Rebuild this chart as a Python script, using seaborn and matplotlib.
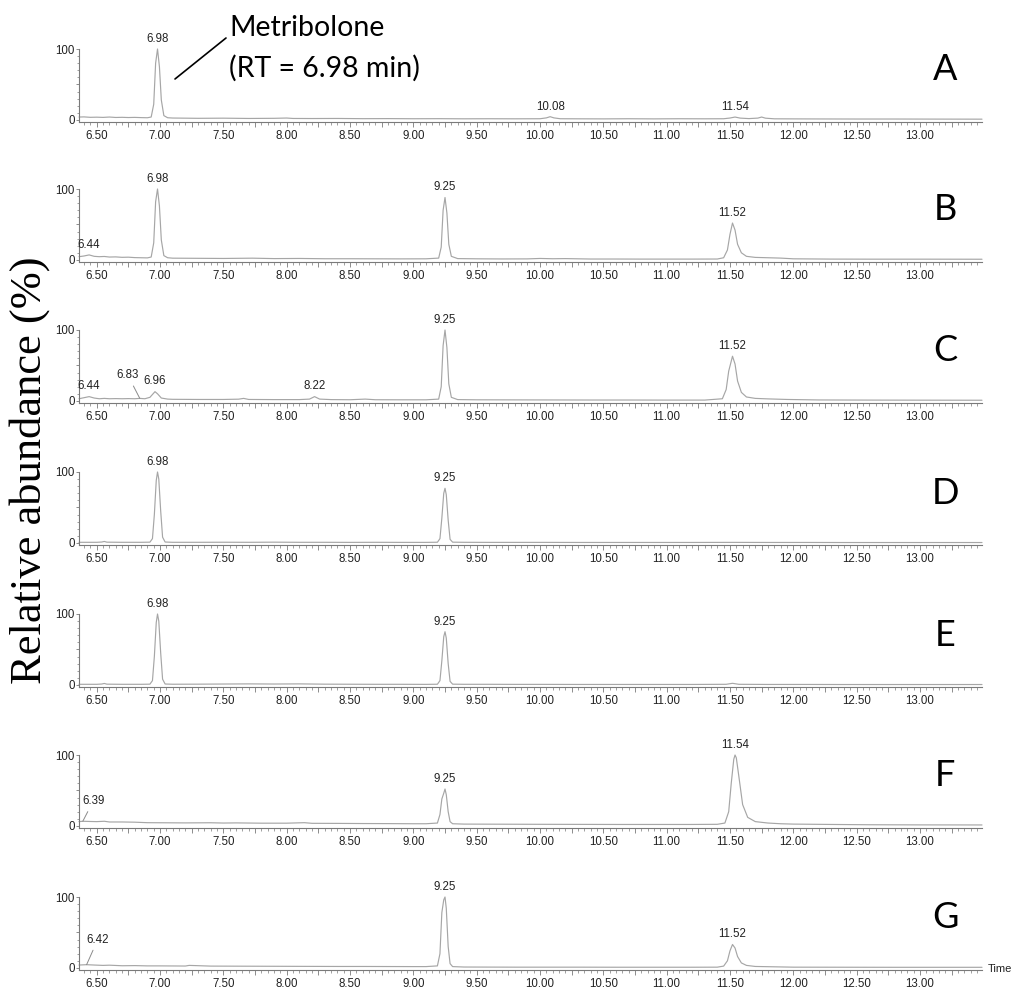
import matplotlib
matplotlib.use("Agg")
import matplotlib.pyplot as plt
import seaborn as sns
import pandas as pd
from matplotlib.ticker import MultipleLocator, FuncFormatter, FixedLocator
from matplotlib.lines import Line2D

# ---------------- data ----------------
TIME_A = [6.36, 6.40, 6.45, 6.50, 6.55, 6.60, 6.65, 6.70, 6.75, 6.80,
          6.85, 6.90, 6.93, 6.95, 6.965, 6.98, 6.995, 7.01, 7.03, 7.06,
          7.10, 7.20, 7.30, 7.50, 7.70, 7.90, 8.00, 8.05, 8.20, 8.40,
          8.60, 8.80, 9.00, 9.20, 9.40, 9.60, 9.80, 10.00, 10.05, 10.08,
          10.11, 10.16, 10.30, 10.50, 10.70, 10.90, 11.10, 11.30, 11.45, 11.50,
          11.54, 11.58, 11.65, 11.72, 11.75, 11.78, 11.85, 12.00, 12.20, 12.50,
          12.80, 13.10, 13.49]
ABUND_A = [4.0, 4.2, 3.6, 3.8, 3.5, 4.0, 3.4, 3.6, 3.3, 3.5,
           3.2, 3.0, 4.0, 22, 80, 100, 75, 28, 6.0, 3.0,
           2.6, 2.4, 2.2, 2.4, 2.0, 2.2, 2.6, 2.0, 1.9, 2.0,
           1.7, 1.8, 1.6, 1.7, 1.5, 1.6, 1.5, 1.6, 2.8, 4.5,
           2.8, 1.6, 1.5, 1.4, 1.6, 1.4, 1.6, 1.5, 1.6, 2.6,
           4.0, 2.5, 1.8, 2.5, 4.0, 2.4, 1.5, 1.4, 1.3, 1.2,
           1.2, 1.1, 1.0]

TIME_B = [6.36, 6.40, 6.44, 6.48, 6.52, 6.56, 6.60, 6.65, 6.70, 6.75,
          6.80, 6.85, 6.90, 6.93, 6.95, 6.965, 6.98, 6.995, 7.01, 7.03,
          7.06, 7.10, 7.30, 7.50, 7.73, 7.90, 8.10, 8.30, 8.50, 8.70,
          8.90, 9.10, 9.20, 9.22, 9.235, 9.25, 9.265, 9.28, 9.30, 9.35,
          9.50, 9.70, 9.90, 10.00, 10.10, 10.20, 10.40, 10.60, 10.80, 11.00,
          11.20, 11.40, 11.45, 11.48, 11.50, 11.52, 11.54, 11.56, 11.59, 11.63,
          11.70, 11.80, 11.90, 12.00, 12.30, 12.60, 13.00, 13.49]
ABUND_B = [4.5, 5.5, 7.0, 5.0, 4.5, 4.8, 4.0, 4.2, 3.6, 3.8,
           3.2, 3.0, 2.8, 4.0, 24, 82, 100, 76, 28, 6.0,
           3.0, 2.4, 2.2, 2.0, 2.4, 1.8, 2.0, 1.6, 1.6, 1.5,
           1.4, 1.5, 2.5, 18, 70, 88, 66, 22, 5.0, 1.8,
           1.5, 1.3, 1.4, 2.0, 1.6, 1.8, 1.2, 1.2, 1.1, 1.1,
           1.1, 1.2, 3.0, 14, 36, 52, 42, 22, 10, 5.0,
           3.5, 3.0, 2.5, 1.5, 1.1, 1.0, 1.0, 0.9]

TIME_C = [6.36, 6.40, 6.44, 6.48, 6.52, 6.56, 6.60, 6.65, 6.70, 6.75,
          6.80, 6.84, 6.88, 6.92, 6.94, 6.96, 6.98, 7.01, 7.06, 7.10,
          7.30, 7.50, 7.62, 7.66, 7.70, 7.90, 8.10, 8.18, 8.22, 8.26,
          8.35, 8.50, 8.58, 8.62, 8.70, 8.90, 9.10, 9.20, 9.22, 9.235,
          9.25, 9.265, 9.28, 9.30, 9.35, 9.50, 9.80, 10.10, 10.40, 10.70,
          11.00, 11.30, 11.44, 11.47, 11.49, 11.52, 11.54, 11.56, 11.59, 11.63,
          11.70, 11.80, 11.95, 12.20, 12.60, 13.00, 13.49]
ABUND_C = [3.0, 4.5, 6.0, 4.0, 3.0, 3.5, 3.0, 3.2, 3.0, 3.2,
           3.0, 3.5, 3.0, 5.0, 9.0, 13, 10, 4.0, 2.5, 2.2,
           2.0, 2.0, 2.4, 3.5, 2.0, 1.8, 1.8, 2.5, 6.0, 2.5,
           1.8, 1.6, 2.2, 2.5, 1.6, 1.5, 1.5, 2.5, 20, 78,
           100, 75, 24, 5.0, 1.8, 1.5, 1.4, 1.3, 1.2, 1.2,
           1.1, 1.1, 3.0, 16, 42, 63, 52, 28, 12, 5.5,
           3.5, 2.8, 2.0, 1.3, 1.1, 1.0, 0.9]

TIME_D = [6.36, 6.50, 6.54, 6.56, 6.58, 6.70, 6.85, 6.92, 6.94, 6.955,
          6.97, 6.98, 6.99, 7.005, 7.02, 7.04, 7.10, 7.30, 7.50, 7.70,
          7.90, 8.10, 8.30, 8.50, 8.70, 8.90, 9.10, 9.19, 9.21, 9.225,
          9.24, 9.25, 9.26, 9.275, 9.29, 9.31, 9.40, 9.60, 9.80, 10.00,
          10.30, 10.60, 10.90, 11.20, 11.50, 11.80, 12.10, 12.40, 12.70, 13.00,
          13.49]
ABUND_D = [0.8, 0.8, 1.2, 2.0, 1.0, 0.8, 0.8, 1.0, 6.0, 40,
           88, 100, 90, 45, 8.0, 1.2, 0.8, 0.8, 0.9, 0.8,
           1.0, 0.8, 0.8, 0.7, 0.8, 0.7, 0.7, 0.9, 6.0, 35,
           70, 77, 68, 32, 5.0, 1.0, 0.8, 0.7, 0.7, 0.7,
           0.6, 0.6, 0.6, 0.6, 0.7, 0.6, 0.6, 0.5, 0.5, 0.5,
           0.5]

TIME_E = [6.36, 6.50, 6.54, 6.56, 6.58, 6.70, 6.85, 6.92, 6.94, 6.955,
          6.97, 6.98, 6.99, 7.005, 7.02, 7.04, 7.10, 7.30, 7.50, 7.70,
          7.90, 8.10, 8.30, 8.50, 8.70, 8.90, 9.10, 9.19, 9.21, 9.225,
          9.24, 9.25, 9.26, 9.275, 9.29, 9.31, 9.40, 9.60, 9.80, 10.00,
          10.30, 10.60, 10.90, 11.20, 11.47, 11.52, 11.57, 11.80, 12.10, 12.40,
          12.70, 13.00, 13.49]
ABUND_E = [0.8, 0.8, 1.2, 2.0, 1.0, 0.8, 0.8, 1.0, 6.0, 40,
           88, 100, 90, 45, 8.0, 1.2, 0.9, 1.0, 1.2, 1.4,
           1.2, 1.4, 1.0, 0.9, 0.8, 0.8, 0.7, 0.9, 6.0, 34,
           68, 75, 66, 30, 5.0, 1.0, 0.8, 0.8, 0.7, 0.7,
           0.6, 0.6, 0.6, 0.6, 0.8, 2.2, 0.8, 0.6, 0.6, 0.5,
           0.5, 0.5, 0.5]

TIME_F = [6.36, 6.39, 6.45, 6.50, 6.56, 6.60, 6.70, 6.80, 6.90, 7.00,
          7.20, 7.40, 7.50, 7.60, 7.70, 7.80, 8.00, 8.14, 8.20, 8.40,
          8.60, 8.80, 9.00, 9.10, 9.19, 9.21, 9.225, 9.24, 9.25, 9.26,
          9.275, 9.29, 9.31, 9.40, 9.60, 9.80, 10.00, 10.30, 10.60, 10.90,
          11.20, 11.40, 11.46, 11.49, 11.51, 11.53, 11.54, 11.55, 11.57, 11.60,
          11.64, 11.70, 11.80, 11.90, 12.00, 12.30, 12.60, 13.00, 13.49]
ABUND_F = [6.0, 6.5, 6.2, 6.0, 6.5, 5.5, 5.5, 5.2, 4.5, 4.4,
           4.2, 4.4, 4.0, 4.2, 4.0, 3.8, 3.8, 4.5, 3.6, 3.5,
           3.3, 3.2, 3.0, 3.0, 4.0, 16, 38, 46, 52, 44,
           20, 6.0, 3.0, 2.5, 2.4, 2.3, 2.2, 2.1, 2.0, 2.0,
           2.0, 2.2, 4.0, 20, 60, 94, 100, 96, 70, 30,
           12, 6.0, 4.0, 3.0, 2.5, 2.0, 1.6, 1.4, 1.3]

TIME_G = [6.36, 6.42, 6.48, 6.55, 6.60, 6.70, 6.80, 6.90, 7.00, 7.20,
          7.23, 7.40, 7.60, 7.80, 8.00, 8.20, 8.40, 8.60, 8.80, 9.00,
          9.10, 9.19, 9.21, 9.225, 9.24, 9.25, 9.26, 9.275, 9.29, 9.31,
          9.40, 9.60, 9.80, 10.00, 10.30, 10.60, 10.90, 11.20, 11.40, 11.45,
          11.48, 11.50, 11.52, 11.54, 11.56, 11.59, 11.63, 11.70, 11.85, 12.00,
          12.40, 12.80, 13.49]
ABUND_G = [4.0, 4.5, 4.0, 3.5, 3.8, 3.0, 3.2, 2.8, 2.8, 2.6,
           3.5, 2.5, 2.4, 2.3, 2.2, 2.1, 2.0, 2.0, 1.9, 1.8,
           1.8, 2.8, 20, 78, 96, 100, 84, 30, 6.0, 1.8,
           1.2, 1.1, 1.0, 1.0, 1.0, 0.9, 0.9, 0.9, 1.0, 2.5,
           10, 24, 33, 28, 16, 7.0, 3.5, 2.0, 1.5, 1.0,
           0.9, 0.8, 0.8]

PANEL_NAMES = ["A", "B", "C", "D", "E", "F", "G"]
PEAK_LABELS = {
    "A": ["6.98", "10.08", "11.54"],
    "B": ["6.44", "6.98", "9.25", "11.52"],
    "C": ["6.44", "6.83", "6.96", "8.22", "9.25", "11.52"],
    "D": ["6.98", "9.25"],
    "E": ["6.98", "9.25"],
    "F": ["6.39", "9.25", "11.54"],
    "G": ["6.42", "9.25", "11.52"],
}
X_TICK_MAJOR = 0.25
X_LIMITS = (6.36, 13.49)
COMPOUND_LINE1 = "Metribolone"
COMPOUND_LINE2 = "(RT = 6.98 min)"
Y_LABEL = "Relative abundance (%)"
X_LABEL = "Time"

TRACES = {
    "A": (TIME_A, ABUND_A), "B": (TIME_B, ABUND_B), "C": (TIME_C, ABUND_C),
    "D": (TIME_D, ABUND_D), "E": (TIME_E, ABUND_E), "F": (TIME_F, ABUND_F),
    "G": (TIME_G, ABUND_G),
}

# leader-line label offsets (points), style only
LEADER_OFFSETS = {("C", "6.83"): (-8.5, 16.5), ("F", "6.39"): (7.5, 14.5),
                  ("G", "6.42"): (8.0, 18.0)}

# ---------------- style ----------------
sns.set_theme(style="white")
plt.rcParams["font.family"] = ["Liberation Sans", "DejaVu Sans"]

W, H = 1013, 992
fig = plt.figure(figsize=(W / 100, H / 100), dpi=100)


def fx(px):
    return px / W


def fy(py):
    return 1 - py / H


AX_L, AX_R = 79, 982
TOPS = [49, 189, 330, 472, 614, 755, 897]
AX_HPX = 73
TRACE_COLOR = "#a6a6a6"
AXIS_COLOR = "#7a7a7a"
TXT = "#222222"


def xfmt(v, pos):
    if abs(v * 2 - round(v * 2)) < 1e-6:
        return f"{v:.2f}"
    return ""


for name, top in zip(PANEL_NAMES, TOPS):
    t, a = TRACES[name]
    df = pd.DataFrame({"time": t, "abund": a})
    ax = fig.add_axes([fx(AX_L), fy(top + AX_HPX), fx(AX_R - AX_L), AX_HPX / H])
    sns.lineplot(data=df, x="time", y="abund", ax=ax, color=TRACE_COLOR,
                 linewidth=0.85, sort=False, estimator=None, clip_on=False)
    ax.set_xlim(*X_LIMITS)
    ax.set_ylim(-3, 100)
    ax.set_xlabel("")
    ax.set_ylabel("")
    ax.patch.set_alpha(0)
    for s in ["top", "right"]:
        ax.spines[s].set_visible(False)
    for s in ["left", "bottom"]:
        ax.spines[s].set_color(AXIS_COLOR)
        ax.spines[s].set_linewidth(0.8)

    ax.xaxis.set_major_locator(MultipleLocator(X_TICK_MAJOR))
    ax.xaxis.set_major_formatter(FuncFormatter(xfmt))
    ax.xaxis.set_minor_locator(MultipleLocator(0.05))
    ax.yaxis.set_major_locator(FixedLocator([0, 50, 100]))
    ax.yaxis.set_major_formatter(FuncFormatter(lambda v, p: "" if v == 50 else f"{v:.0f}"))
    ax.yaxis.set_minor_locator(MultipleLocator(10))
    ax.tick_params(axis="x", which="major", direction="out", length=3.5, width=0.6,
                   color=AXIS_COLOR, labelsize=8.3, labelcolor=TXT, pad=2.5, bottom=True)
    ax.tick_params(axis="x", which="minor", direction="out", length=2.2, width=0.5,
                   color=AXIS_COLOR, bottom=True)
    ax.tick_params(axis="y", which="major", direction="out", length=2.5, width=0.6,
                   color=AXIS_COLOR, labelsize=8.3, labelcolor=TXT, pad=0.5, left=True)
    ax.tick_params(axis="y", which="minor", direction="out", length=1.5, width=0.5,
                   color=AXIS_COLOR, left=True)

    for lab in PEAK_LABELS[name]:
        rt = float(lab)
        key = (name, lab)
        if key in LEADER_OFFSETS:
            i = min(range(len(t)), key=lambda k: abs(t[k] - rt))
            ax.annotate(lab, xy=(t[i], a[i]), xytext=LEADER_OFFSETS[key],
                        textcoords="offset points", ha="center", va="center",
                        fontsize=8.3, color=TXT, annotation_clip=False,
                        arrowprops=dict(arrowstyle="-", color="#8a8a8a", lw=0.7,
                                        shrinkA=1, shrinkB=0))
        else:
            ymax = max(a[k] for k in range(len(t)) if abs(t[k] - rt) <= 0.03)
            ax.annotate(lab, xy=(rt, ymax), xytext=(0, 3), textcoords="offset points",
                        ha="center", va="bottom", fontsize=8.3, color=TXT,
                        annotation_clip=False)

    fig.text(fx(945), fy(top + 21), name, ha="center", va="center",
             fontsize=26, family=["Lato", "DejaVu Sans"], color="black")

# compound annotation on panel A
fig.text(fx(229), fy(28), COMPOUND_LINE1, ha="left", va="center", fontsize=20.5,
         family=["Lato", "DejaVu Sans"], color="black")
fig.text(fx(229), fy(68), COMPOUND_LINE2, ha="left", va="center", fontsize=20.5,
         family=["Lato", "DejaVu Sans"], color="black")
fig.add_artist(Line2D([fx(175), fx(226)], [fy(79), fy(38)], transform=fig.transFigure,
                      color="black", linewidth=1.2))

# y label
fig.text(fx(30), fy(470), Y_LABEL, rotation=90, ha="center", va="center",
         fontsize=32, family=["Liberation Serif", "DejaVu Serif"], color="black")

# x label "Time"
fig.text(fx(988), fy(969), X_LABEL, ha="left", va="center", fontsize=8, color=TXT)

fig.savefig("out.png", dpi=100)
